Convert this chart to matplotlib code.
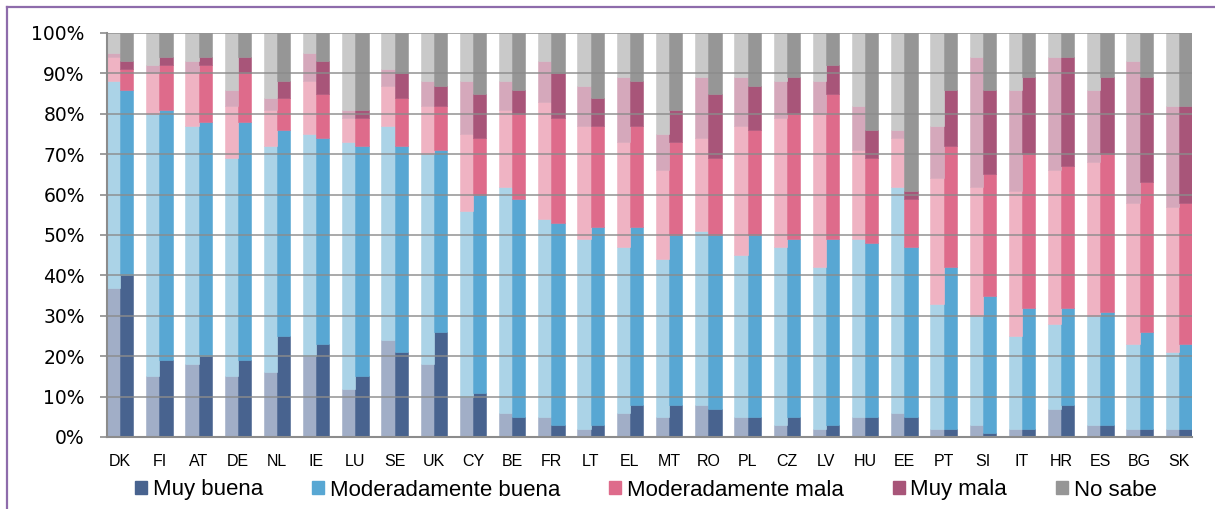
import numpy as np
import matplotlib
matplotlib.use("Agg")
import matplotlib.pyplot as plt
from matplotlib.lines import Line2D
from matplotlib.patches import Patch

countries = ["DK", "FI", "AT", "DE", "NL", "IE", "LU", "SE", "UK", "CY", "BE", "FR", "LT", "EL",
             "MT", "RO", "PL", "CZ", "LV", "HU", "EE", "PT", "SI", "IT", "HR", "ES", "BG", "SK"]
categories = ["Muy buena", "Moderadamente buena", "Moderadamente mala", "Muy mala", "No sabe"]

# first wave (light bars), % per country
prev_muy_buena = [37, 15, 18, 15, 16, 20, 12, 24, 18, 10, 6, 5, 2, 6, 5, 8, 5, 3, 2, 5, 6, 2, 3, 2, 7, 3, 2, 2]
prev_mod_buena = [51, 65, 59, 54, 56, 55, 61, 53, 52, 46, 56, 49, 47, 41, 39, 43, 40, 44, 40, 44, 56, 31, 27, 23, 21, 27, 21, 19]
prev_mod_mala = [6, 10, 13, 13, 9, 13, 6, 10, 12, 19, 19, 29, 28, 26, 22, 23, 32, 32, 38, 22, 12, 31, 32, 36, 38, 38, 35, 36]
prev_muy_mala = [1, 2, 3, 4, 3, 7, 2, 4, 6, 13, 7, 10, 10, 16, 9, 15, 12, 9, 8, 11, 2, 13, 32, 25, 28, 18, 35, 25]
prev_no_sabe = [5, 8, 7, 14, 16, 5, 19, 9, 12, 12, 12, 7, 13, 11, 25, 11, 11, 12, 12, 18, 24, 23, 6, 14, 6, 14, 7, 18]

# latest wave (dark bars)
curr_muy_buena = [40, 19, 20, 19, 25, 23, 15, 21, 26, 11, 5, 3, 3, 8, 8, 7, 5, 5, 3, 5, 5, 2, 1, 2, 8, 3, 2, 2]
curr_mod_buena = [46, 62, 58, 59, 51, 51, 57, 51, 45, 49, 54, 50, 49, 44, 42, 43, 45, 44, 46, 43, 42, 40, 34, 30, 24, 28, 24, 21]
curr_mod_mala = [5, 11, 14, 12, 8, 11, 7, 12, 11, 14, 21, 26, 25, 25, 23, 19, 26, 31, 36, 21, 12, 30, 30, 38, 35, 39, 37, 35]
curr_muy_mala = [2, 2, 2, 4, 4, 8, 2, 6, 5, 11, 6, 11, 7, 11, 8, 16, 11, 9, 7, 7, 2, 14, 21, 19, 27, 19, 26, 24]
curr_no_sabe = [7, 6, 6, 6, 12, 7, 19, 10, 13, 15, 14, 10, 16, 12, 19, 15, 13, 11, 8, 24, 39, 14, 14, 11, 6, 11, 11, 18]

prev = [prev_muy_buena, prev_mod_buena, prev_mod_mala, prev_muy_mala, prev_no_sabe]
curr = [curr_muy_buena, curr_mod_buena, curr_mod_mala, curr_muy_mala, curr_no_sabe]

light_colors = ["#a1aec7", "#abd3e7", "#efb3c3", "#d5a8bb", "#c9c9c9"]
dark_colors = ["#48638f", "#58a7d3", "#de6b8b", "#a85579", "#969696"]

fig = plt.figure(figsize=(12.15, 5.09), dpi=100)
ax = fig.add_axes([107 / 1215, 1 - 437 / 509, 1085 / 1215, 404 / 509])

x = np.arange(len(countries))
w = 0.337
bottom_p = np.zeros(len(countries))
bottom_c = np.zeros(len(countries))
for k in range(5):
    vp = np.array(prev[k], dtype=float)
    vc = np.array(curr[k], dtype=float)
    ax.bar(x - w / 2, vp, w, bottom=bottom_p, color=light_colors[k], edgecolor=light_colors[k],
           linewidth=0.4, zorder=2)
    ax.bar(x + w / 2, vc, w, bottom=bottom_c, color=dark_colors[k], edgecolor=dark_colors[k],
           linewidth=0.4, zorder=2)
    bottom_p += vp
    bottom_c += vc

ax.set_xlim(-w, len(countries) - 1 + w)
ax.set_ylim(0, 100)
ax.set_yticks(np.arange(0, 101, 10))
ax.set_yticklabels([f"{v}%" for v in range(0, 101, 10)], fontsize=13.5, family="DejaVu Sans")
ax.set_xticks(x)
ax.set_xticklabels(countries, fontsize=11.5, family="Liberation Sans")
ax.tick_params(axis="x", length=0, pad=12)
ax.tick_params(axis="y", length=5, width=1.2, color="#8c8c8c", pad=11)

for v in range(10, 101, 10):
    ax.axhline(v, color="#8c8c8c", linewidth=1.3, alpha=0.8, zorder=3)
for s in ["top", "right"]:
    ax.spines[s].set_visible(False)
for s in ["left", "bottom"]:
    ax.spines[s].set_color("#8c8c8c")
    ax.spines[s].set_linewidth(1.5)
    ax.spines[s].set_zorder(4)

handles = [Patch(facecolor=c, edgecolor=c) for c in dark_colors]
fig.legend(handles, categories, loc="center", bbox_to_anchor=(646 / 1215, 1 - 490 / 509),
           ncol=5, frameon=False, handlelength=0.55, handleheight=0.55, handletextpad=0.25,
           columnspacing=2.2, prop={"family": "Liberation Sans", "size": 16})

# purple frame (top and left edge)
frame = "#8e6cab"
fig.add_artist(Line2D([7 / 1215, 1], [1 - 7 / 509, 1 - 7 / 509], color=frame, linewidth=1.6,
                      transform=fig.transFigure))
fig.add_artist(Line2D([7 / 1215, 7 / 1215], [0, 1 - 7 / 509], color=frame, linewidth=1.6,
                      transform=fig.transFigure))

fig.savefig("out.png", dpi=100)
